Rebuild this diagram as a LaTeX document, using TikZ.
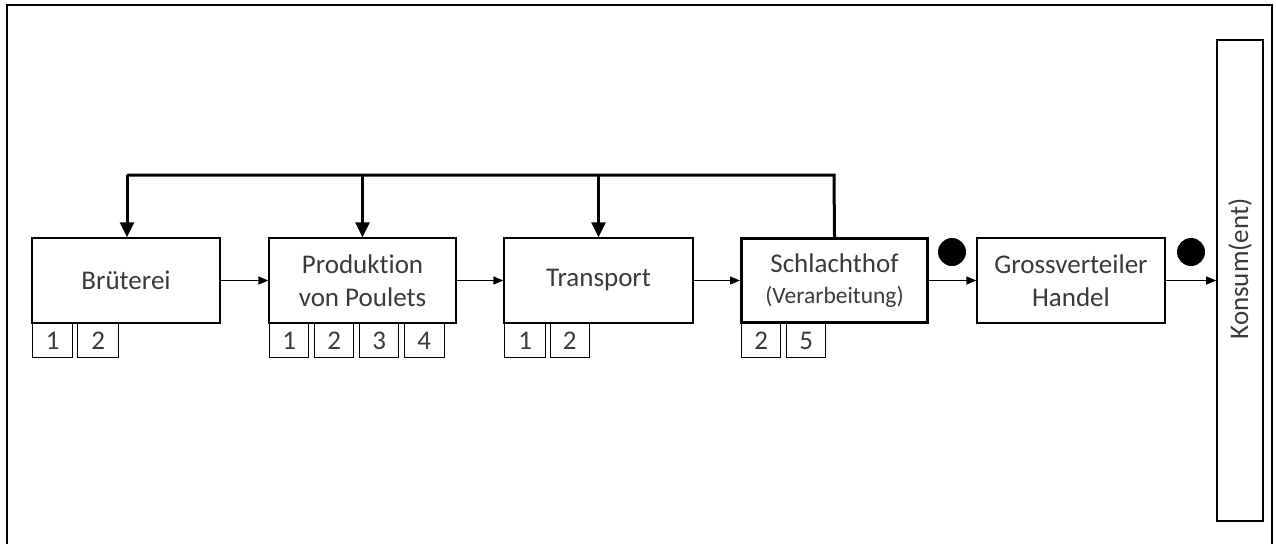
\documentclass[tikz,border=0pt]{standalone}
\usepackage{fontspec}
\setmainfont{Carlito}[Ligatures={NoCommon}]
\usetikzlibrary{arrows.meta}
\definecolor{txt}{HTML}{3A3A3A}
\begin{document}
\begin{tikzpicture}[x=1pt,y=-1pt,
  stage/.style={draw=black,line width=1.4pt,minimum width=188pt,minimum height=85pt,inner sep=0pt,align=center,text=txt,font=\fontsize{27}{33}\selectfont},
  numbox/.style={draw=black,line width=1.3pt,minimum width=40pt,minimum height=34pt,inner sep=0pt,anchor=north west,text=txt,font=\fontsize{27}{30}\selectfont},
  flow/.style={line width=1.4pt,-{Triangle[length=10pt,width=8pt]}},
  fb/.style={line width=3pt},
  fbarrow/.style={line width=3pt,-{Triangle[length=15pt,width=14pt]}},
  dot/.style={circle,fill=black,minimum size=28pt,inner sep=0pt}]
\useasboundingbox (0,0) rectangle (1276,544);
\draw[line width=2pt] (7,544) -- (7,5) -- (1272,5) -- (1272,544);
\node[stage] (b) at (126,280.5) {Brüterei};
\node[stage,minimum width=187pt] (p) at (362.5,280.5) {Produktion\\von Poulets};
\node[stage,minimum width=189pt] (t) at (598.5,280.5) {Transport};
\node[stage,line width=3pt,minimum width=186pt,minimum height=84pt] (s) at (834.5,280.5) {Schlachthof\\[-2pt]{\fontsize{23.5}{26}\selectfont(Verarbeitung)}};
\node[stage] (g) at (1071,280.5) {Grossverteiler\\Handel};
\node[draw=black,line width=1.6pt,minimum width=46pt,minimum height=481pt,inner sep=0pt] (k) at (1240,280.5) {};
\node[rotate=90,text=txt,font=\fontsize{27}{30}\selectfont] (kt) at (1240,269) {Konsum(ent)};
% number boxes
\node[numbox] (b1) at (32,323) {1};
\node[numbox,minimum width=41pt] (b2) at (77,323) {2};
\node[numbox,minimum width=39pt] (p1) at (269,323) {1};
\node[numbox,minimum width=39pt] (p2) at (314,323) {2};
\node[numbox,minimum width=39pt] (p3) at (359,323) {3};
\node[numbox,minimum width=40pt] (p4) at (403.5,323) {4};
\node[numbox,minimum width=41pt] (t1) at (504,323) {1};
\node[numbox,minimum width=39pt] (t2) at (549.5,323) {2};
\node[numbox,minimum width=39pt] (s2) at (741,323) {2};
\node[numbox,minimum width=39pt] (s5) at (786,323) {5};
% flow arrows
\draw[flow] (b.east) -- (p.west);
\draw[flow] (p.east) -- (t.west);
\draw[flow] (t.east) -- (s.west);
\draw[flow] (s.east) -- (g.west);
\draw[flow] (g.east) -- (k.west |- g.east);
% dots
\node[dot] (d1) at (952,252) {};
\node[dot] (d2) at (1191,252) {};
% feedback
\coordinate (c1) at (834,175);
\coordinate (c0) at (127,175);
\draw[fb] (s.north) -- (c1) -- (c0);
\draw[fbarrow] (c0) -- (c0 |- b.north);
\draw[fbarrow] (p.north |- c1) -- (p.north);
\draw[fbarrow] (t.north |- c1) -- (t.north);
\end{tikzpicture}
\end{document}
